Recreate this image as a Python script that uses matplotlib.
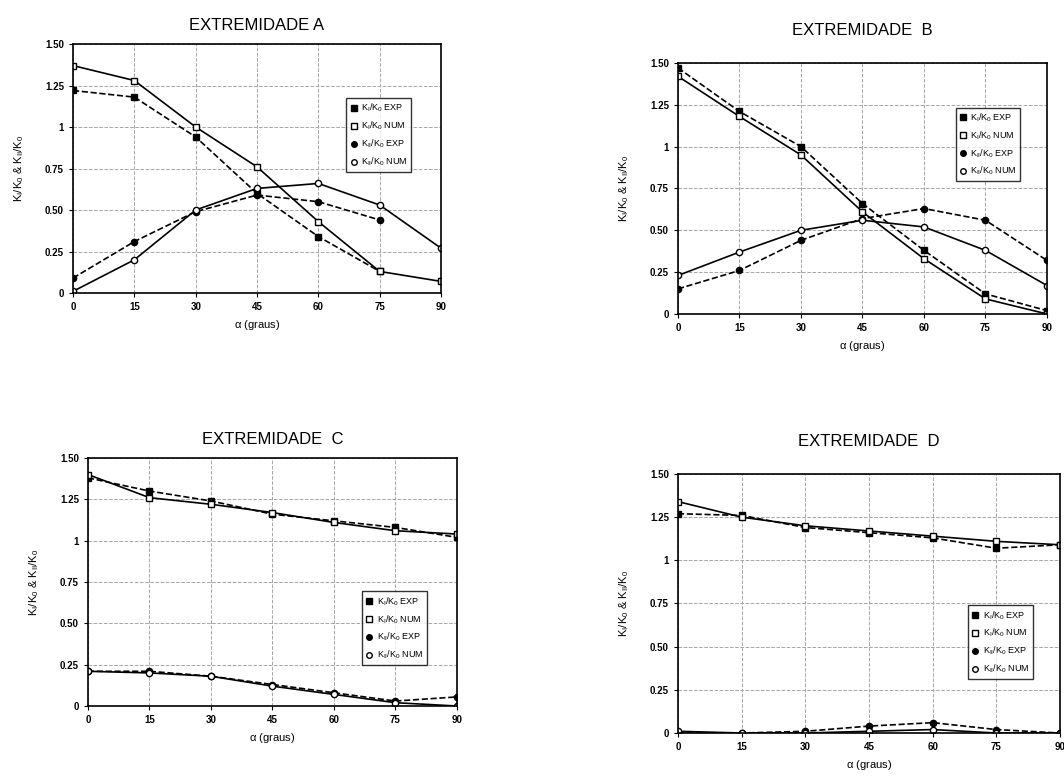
import numpy as np
import matplotlib.pyplot as plt
from matplotlib.lines import Line2D

plt.rcParams['font.family'] = ['Liberation Sans', 'DejaVu Sans']
plt.rcParams['mathtext.default'] = 'regular'

alpha = [0, 15, 30, 45, 60, 75, 90]
y_ticks = [0, 0.25, 0.5, 0.75, 1, 1.25, 1.5]
y_tick_labels = ['0', '0.25', '0.50', '0.75', '1', '1.25', '1.50']
legend_labels = [r'K$_I$/K$_0$ EXP', r'K$_I$/K$_0$ NUM',
                 r'K$_{II}$/K$_0$ EXP', r'K$_{II}$/K$_0$ NUM']

# Extremidade A
a_ki_exp = [1.22, 1.18, 0.94, 0.60, 0.34, 0.13, np.nan]
a_ki_num = [1.37, 1.28, 1.00, 0.76, 0.43, 0.13, 0.07]
a_kii_exp = [0.09, 0.31, 0.49, 0.59, 0.55, 0.44, np.nan]
a_kii_num = [0.01, 0.20, 0.50, 0.63, 0.66, 0.53, 0.27]

# Extremidade B
b_ki_exp = [1.47, 1.21, 1.00, 0.66, 0.38, 0.12, 0.02]
b_ki_num = [1.42, 1.18, 0.95, 0.61, 0.33, 0.09, 0.00]
b_kii_exp = [0.15, 0.26, 0.44, 0.57, 0.63, 0.56, 0.32]
b_kii_num = [0.23, 0.37, 0.50, 0.56, 0.52, 0.38, 0.17]

# Extremidade C
c_ki_exp = [1.38, 1.30, 1.24, 1.16, 1.12, 1.08, 1.02]
c_ki_num = [1.40, 1.26, 1.22, 1.17, 1.11, 1.06, 1.04]
c_kii_exp = [0.21, 0.21, 0.18, 0.13, 0.08, 0.03, 0.055]
c_kii_num = [0.21, 0.20, 0.18, 0.12, 0.07, 0.02, 0.00]

# Extremidade D
d_ki_exp = [1.27, 1.26, 1.19, 1.16, 1.13, 1.07, 1.09]
d_ki_num = [1.34, 1.25, 1.20, 1.17, 1.14, 1.11, 1.09]
d_kii_exp = [0.00, 0.00, 0.01, 0.04, 0.06, 0.02, 0.00]
d_kii_num = [0.01, 0.00, 0.00, 0.01, 0.02, 0.00, 0.00]


def draw_panel(rect, title, ki_exp, ki_num, kii_exp, kii_num, leg_pos, title_pad):
    ax = fig.add_axes(rect)
    ax.plot(alpha, ki_exp, color='k', ls='--', lw=1.2, marker='s', ms=4.5, mfc='k')
    ax.plot(alpha, ki_num, color='k', ls='-', lw=1.2, marker='s', ms=4.5, mfc='white')
    ax.plot(alpha, kii_exp, color='k', ls='--', lw=1.2, marker='o', ms=4.5, mfc='k')
    ax.plot(alpha, kii_num, color='k', ls='-', lw=1.2, marker='o', ms=4.5, mfc='white')

    ax.set_xlim(0, 90)
    ax.set_ylim(0, 1.5)
    ax.set_xticks(alpha)
    ax.set_yticks(y_ticks)
    ax.set_yticklabels(y_tick_labels)
    ax.tick_params(labelsize=7, length=3)
    for lab in ax.get_xticklabels() + ax.get_yticklabels():
        lab.set_fontweight('bold')
    ax.grid(True, color='0.65', linestyle='--', linewidth=0.7)
    for sp in ax.spines.values():
        sp.set_linewidth(1.2)

    ax.set_title(title, fontsize=12, pad=title_pad)
    ax.set_xlabel(r'$\alpha$ (graus)', fontsize=8)
    ax.set_ylabel(r'K$_I$/K$_0$ & K$_{II}$/K$_0$', fontsize=8, labelpad=14)

    # legend shows markers only, like the original
    handles = [
        Line2D([], [], ls='none', marker='s', ms=4, color='k', mfc='k'),
        Line2D([], [], ls='none', marker='s', ms=4, color='k', mfc='white'),
        Line2D([], [], ls='none', marker='o', ms=4, color='k', mfc='k'),
        Line2D([], [], ls='none', marker='o', ms=4, color='k', mfc='white'),
    ]
    leg = ax.legend(handles, legend_labels, loc='upper right', bbox_to_anchor=leg_pos,
                    fontsize=6.5, fancybox=False, edgecolor='k', handlelength=0.8,
                    handletextpad=0.4, borderpad=0.4, labelspacing=0.6)
    leg.get_frame().set_linewidth(1.0)
    return ax


fig = plt.figure(figsize=(10.64, 7.76), dpi=100)

draw_panel([0.0686, 0.6224, 0.3459, 0.3209], 'EXTREMIDADE A',
           a_ki_exp, a_ki_num, a_kii_exp, a_kii_num, (0.93, 0.80), 10)
draw_panel([0.6372, 0.5954, 0.3468, 0.3235], 'EXTREMIDADE  B',
           b_ki_exp, b_ki_num, b_kii_exp, b_kii_num, (0.94, 0.84), 20)
draw_panel([0.0827, 0.0902, 0.3468, 0.3196], 'EXTREMIDADE  C',
           c_ki_exp, c_ki_num, c_kii_exp, c_kii_num, (0.93, 0.48), 10)
draw_panel([0.6372, 0.0554, 0.3590, 0.3338], 'EXTREMIDADE  D',
           d_ki_exp, d_ki_num, d_kii_exp, d_kii_num, (0.94, 0.51), 20)

fig.savefig('out.png', dpi=100)
